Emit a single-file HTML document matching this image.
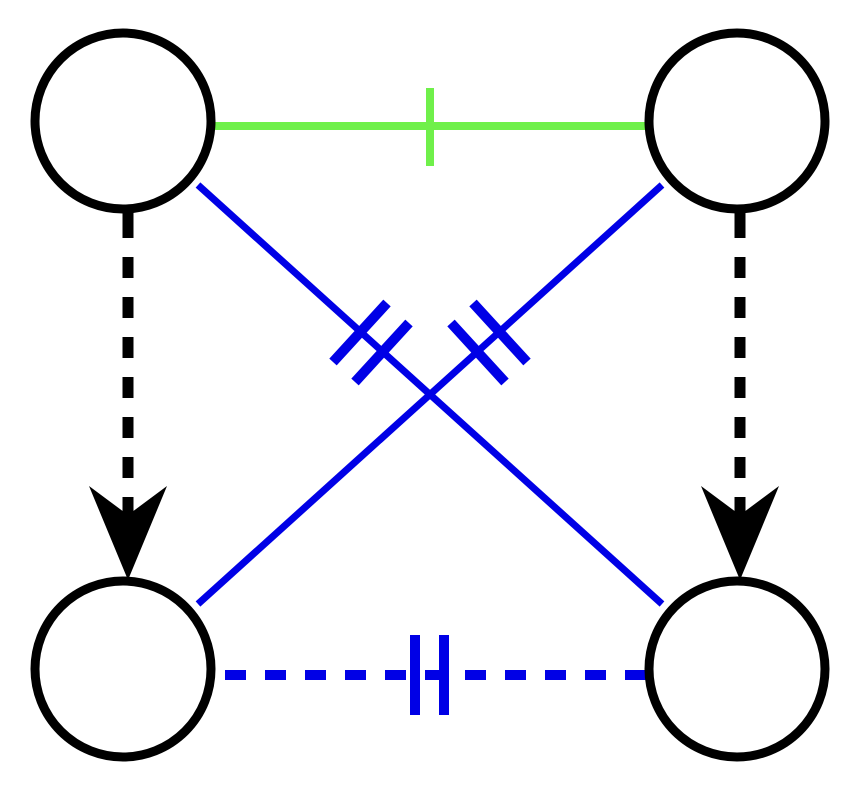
<!DOCTYPE html>
<html><head><style>html,body{margin:0;padding:0;background:#fff}</style></head><body>
<svg width="856" height="791" viewBox="0 0 856 791" xmlns="http://www.w3.org/2000/svg">
<g fill="none">
<line x1="212" y1="126" x2="646" y2="126" stroke="#6ff04a" stroke-width="8"/>
<line x1="430" y1="88" x2="430" y2="166" stroke="#6ff04a" stroke-width="8"/>
<line x1="198" y1="185" x2="662" y2="604" stroke="#0000e6" stroke-width="7"/>
<line x1="662" y1="185" x2="198" y2="604" stroke="#0000e6" stroke-width="7"/>
<line x1="333" y1="362" x2="387" y2="303" stroke="#0000e6" stroke-width="10"/>
<line x1="355" y1="382" x2="409" y2="323" stroke="#0000e6" stroke-width="10"/>
<line x1="451" y1="323" x2="505" y2="382" stroke="#0000e6" stroke-width="10"/>
<line x1="473" y1="303" x2="527" y2="362" stroke="#0000e6" stroke-width="10"/>
<line x1="225" y1="675" x2="646" y2="675" stroke="#0000e6" stroke-width="10" stroke-dasharray="21 19"/>
<line x1="415" y1="635" x2="415" y2="715" stroke="#0000e6" stroke-width="10"/>
<line x1="444" y1="635" x2="444" y2="715" stroke="#0000e6" stroke-width="10"/>
<line x1="128" y1="217" x2="128" y2="520" stroke="#000" stroke-width="11" stroke-dasharray="21 19"/>
<line x1="740" y1="217" x2="740" y2="520" stroke="#000" stroke-width="11" stroke-dasharray="21 19"/>
<line x1="128" y1="205" x2="128" y2="237" stroke="#000" stroke-width="11"/>
<line x1="740" y1="205" x2="740" y2="237" stroke="#000" stroke-width="11"/>
</g>
<polygon points="89,486 128,515 167,486 128,580" fill="#000"/>
<polygon points="701,486 740,515 779,486 740,580" fill="#000"/>
<g fill="none" stroke="#000" stroke-width="9">
<circle cx="123" cy="121" r="88"/>
<circle cx="737" cy="121" r="88"/>
<circle cx="123" cy="669" r="88"/>
<circle cx="737" cy="669" r="88"/>
</g>
</svg>
</body></html>
